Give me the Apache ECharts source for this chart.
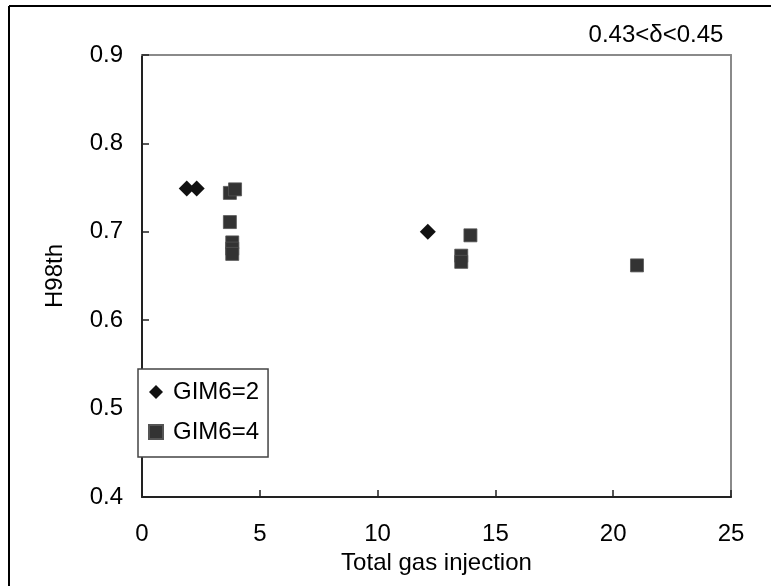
<!DOCTYPE html>
<html>
<head>
<meta charset="utf-8">
<script src="https://cdn.jsdelivr.net/npm/echarts@6/dist/echarts.min.js"></script>
<style>
  html, body { margin: 0; padding: 0; background: #fff; }
  #chart { width: 771px; height: 586px; }
</style>
</head>
<body>
<div id="chart"></div>
<script>
// Total gas injection vs H98th, grouped by GIM6 setting
const seriesNames = ['GIM6=2', 'GIM6=4'];
const gim6_2 = [[1.90, 0.749], [2.32, 0.749], [12.13, 0.700]];
const gim6_4 = [
  [3.73, 0.744], [3.95, 0.748], [3.73, 0.711],
  [3.83, 0.688], [3.83, 0.681], [3.83, 0.675],
  [13.94, 0.696], [13.55, 0.673], [13.55, 0.666],
  [21.01, 0.662]
];
const xTitle = 'Total gas injection';
const yTitle = 'H98th';
const rangeNote = '0.43<\u03b4<0.45';

const FONT = '"Liberation Sans", Arial, sans-serif';

const chart = echarts.init(document.getElementById('chart'), null, { renderer: 'canvas' });

const mainAxisLine = { show: true, onZero: false, lineStyle: { color: '#222', width: 2 } };
const frameAxisLine = { show: true, onZero: false, lineStyle: { color: '#8a8a8a', width: 2 } };

chart.setOption({
  backgroundColor: '#fff',
  animation: false,
  textStyle: { fontFamily: FONT },
  grid: { left: 142, top: 55, right: 40, bottom: 89, containLabel: false },
  xAxis: [
    {
      type: 'value', min: 0, max: 25, interval: 5,
      axisLine: mainAxisLine,
      axisTick: { show: true, inside: true, length: 7, lineStyle: { color: '#222', width: 1.5 } },
      axisLabel: { color: '#000', fontSize: 24, fontFamily: FONT, margin: 25 },
      splitLine: { show: false },
      name: xTitle, nameLocation: 'middle', nameGap: 53,
      nameTextStyle: { color: '#000', fontSize: 24, fontFamily: FONT }
    },
    {
      type: 'value', position: 'top', min: 0, max: 25, interval: 5,
      axisLine: frameAxisLine, axisTick: { show: false }, axisLabel: { show: false },
      splitLine: { show: false }
    }
  ],
  yAxis: [
    {
      type: 'value', min: 0.4, max: 0.9, interval: 0.1,
      axisLine: mainAxisLine,
      axisTick: { show: true, inside: true, length: 7, lineStyle: { color: '#222', width: 1.5 } },
      axisLabel: {
        color: '#000', fontSize: 24, fontFamily: FONT, margin: 19,
        formatter: v => v.toFixed(1)
      },
      splitLine: { show: false },
      name: yTitle, nameLocation: 'middle', nameGap: 75, nameRotate: 90,
      nameTextStyle: { color: '#000', fontSize: 24, fontFamily: FONT }
    },
    {
      type: 'value', position: 'right', min: 0.4, max: 0.9, interval: 0.1,
      axisLine: frameAxisLine, axisTick: { show: false }, axisLabel: { show: false },
      splitLine: { show: false }
    }
  ],
  legend: {
    orient: 'vertical',
    left: 138, top: 369,
    backgroundColor: '#fff',
    borderColor: '#444', borderWidth: 1.5,
    padding: [11, 9, 13, 10],
    itemGap: 16,
    itemWidth: 14, itemHeight: 14,
    textStyle: { color: '#000', fontSize: 24, fontFamily: FONT, padding: [0, 0, 0, 5] },
    data: [
      { name: seriesNames[0], icon: 'diamond' },
      { name: seriesNames[1], icon: 'rect', itemStyle: { color: '#333' } }
    ]
  },
  series: [
    {
      name: seriesNames[0], type: 'scatter', data: gim6_2,
      symbol: 'diamond', symbolSize: 16,
      itemStyle: { color: '#111', opacity: 1 }, z: 3
    },
    {
      name: seriesNames[1], type: 'scatter', data: gim6_4,
      symbol: 'rect', symbolSize: 13,
      itemStyle: { color: '#333', borderColor: '#555', borderWidth: 0.8, opacity: 1 }, z: 2
    }
  ],
  graphic: [
    { type: 'line', shape: { x1: 9, y1: 6, x2: 9, y2: 586 }, style: { stroke: '#000', lineWidth: 2 } },
    { type: 'line', shape: { x1: 9, y1: 6, x2: 771, y2: 6 }, style: { stroke: '#000', lineWidth: 2 } },
    {
      type: 'text', x: 656, y: 35,
      style: {
        text: rangeNote, fill: '#000', fontSize: 24, fontFamily: FONT,
        align: 'center', verticalAlign: 'middle'
      }
    }
  ]
});
</script>
</body>
</html>
